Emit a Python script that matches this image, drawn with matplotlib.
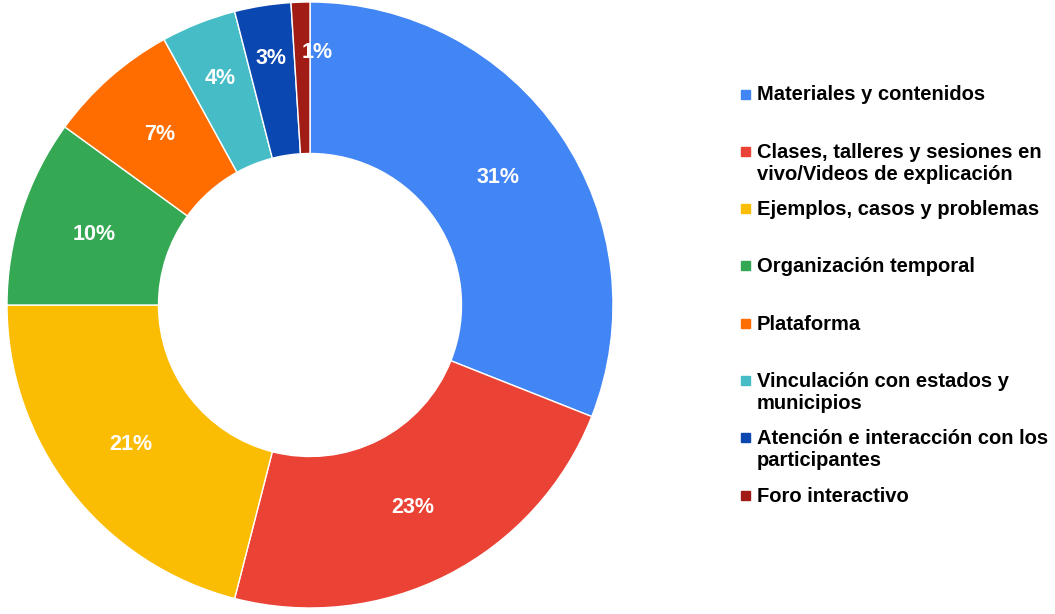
import matplotlib.pyplot as plt

labels = [
    "Materiales y contenidos",
    "Clases, talleres y sesiones en\nvivo/Videos de explicación",
    "Ejemplos, casos y problemas",
    "Organización temporal",
    "Plataforma",
    "Vinculación con estados y\nmunicipios",
    "Atención e interacción con los\nparticipantes",
    "Foro interactivo",
]
values = [31, 23, 21, 10, 7, 4, 3, 1]
colors = ["#4285F4", "#EA4335", "#FBBC04", "#34A853",
          "#FF6D01", "#46BDC6", "#0B47B0", "#A11C15"]

plt.rcParams['font.family'] = ['Liberation Sans', 'DejaVu Sans']

fig = plt.figure(figsize=(10.55, 6.14), dpi=100)
ax = fig.add_axes([7 / 1055, 6 / 614, 606 / 1055, 606 / 614])

wedges, texts, autotexts = ax.pie(
    values, colors=colors, startangle=90, counterclock=False,
    autopct='%1.0f%%', pctdistance=0.75, radius=1.0,
    wedgeprops=dict(width=0.5, edgecolor='white', linewidth=1),
)
# small slices get their labels pushed outward a bit
label_push = [1, 1, 1, 1, 1, 1.07, 1.1, 1.11]
for t, k in zip(autotexts, label_push):
    t.set_color('white')
    t.set_fontsize(15.5)
    t.set_fontweight('bold')
    x, y = t.get_position()
    t.set_position((x * k, y * k))
# the 1% label sits just right of its thin slice
x, y = autotexts[-1].get_position()
autotexts[-1].set_position((x + 0.05, y))

ax.set_xlim(-1, 1)
ax.set_ylim(-1, 1)
ax.set_aspect('equal')

# legend drawn by hand to match spacing
y0 = 94
step = 57.3
for i, (lab, col) in enumerate(zip(labels, colors)):
    y = y0 + step * i
    fig.patches.append(plt.Rectangle((741 / 1055, 1 - (y + 4.5) / 614), 9 / 1055, 9 / 614,
                                     transform=fig.transFigure, color=col))
    fig.text(757 / 1055, 1 - (y - 8.5) / 614, lab, fontsize=14.5, fontweight='bold',
             va='top', ha='left', linespacing=1.2, color='black')

fig.savefig('out.png', dpi=100)
